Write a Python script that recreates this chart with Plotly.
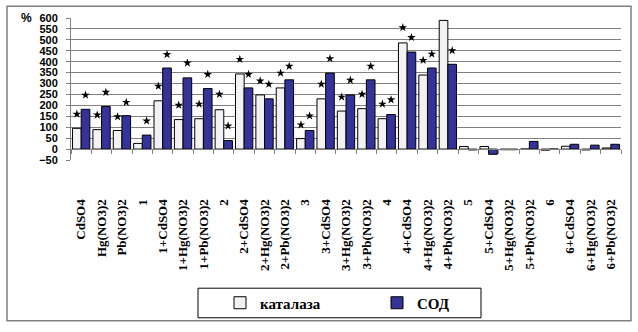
import plotly.graph_objects as go

categories = ["CdSO4", "Hg(NO3)2", "Pb(NO3)2", "1", "1+CdSO4", "1+Hg(NO3)2", "1+Pb(NO3)2",
              "2", "2+CdSO4", "2+Hg(NO3)2", "2+Pb(NO3)2", "3", "3+CdSO4", "3+Hg(NO3)2",
              "3+Pb(NO3)2", "4", "4+CdSO4", "4+Hg(NO3)2", "4+Pb(NO3)2", "5", "5+CdSO4",
              "5+Hg(NO3)2", "5+Pb(NO3)2", "6", "6+CdSO4", "6+Hg(NO3)2", "6+Pb(NO3)2"]

catalase = [95, 89, 85, 26, 221, 135, 139, 180, 344, 248, 280, 48, 230, 174, 185, 139,
            486, 339, 589, 12, 12, -3, 0, -5, 13, -4, 5]
sod = [182, 195, 153, 64, 371, 326, 277, 39, 280, 230, 317, 85, 348, 248, 317, 158,
       444, 371, 388, -4, -24, -3, 35, 0, 22, 18, 22]

# significance marks (*) heights
catalase_star = [160, 156, 148, None, 288, 201, 206, 251, 411, 312, 348, 111, 297, 238, 251,
                 206, 556, 406, 611, None, None, None, None, None, None, None, None]
sod_star = [247, 260, 214, 129, 433, 394, 342, 106, 342, 297, 379, 152, 414, 315, 379,
            226, 511, 435, 451, None, None, None, None, None, None, None, None]

series_names = ["каталаза", "СОД"]
y_ticks = list(range(-50, 601, 50))

W, H = 638, 332
L, R, T, B = 71, 17, 18, 170
pw, ph = W - L - R, H - T - B

def px_x(p):
    return (p - L) / pw

def px_y(p):
    return (H - B - p) / ph

fig = go.Figure()
fig.add_bar(x=categories, y=catalase, name=series_names[0], offsetgroup="a",
            marker=dict(color="#F2F2F2", line=dict(color="black", width=1)))
fig.add_bar(x=categories, y=sod, name=series_names[1], offsetgroup="b",
            marker=dict(color="#333399", line=dict(color="black", width=1)))
fig.add_scatter(x=categories, y=catalase_star, mode="markers", offsetgroup="a",
                showlegend=False, cliponaxis=False,
                marker=dict(symbol="star", size=6.5, color="black"))
fig.add_scatter(x=categories, y=sod_star, mode="markers", offsetgroup="b",
                showlegend=False, cliponaxis=False,
                marker=dict(symbol="star", size=6.5, color="black"))

fig.update_layout(
    width=W, height=H,
    margin=dict(l=L, r=R, t=T, b=B, pad=0),
    paper_bgcolor="white", plot_bgcolor="white",
    barmode="group", bargap=0.15, bargroupgap=0,
    scattermode="group",
    showlegend=True,
    legend=dict(orientation="h", x=px_x(220), y=px_y(307), xanchor="left", yanchor="middle",
                borderwidth=0, bgcolor="rgba(0,0,0,0)",
                font=dict(family="Liberation Serif", size=15, color="black", weight="bold"),
                entrywidth=112, entrywidthmode="pixels", traceorder="normal"),
    xaxis=dict(type="category", anchor="free", position=50 / 650,
               showline=True, linecolor="#808080", linewidth=1,
               ticks="outside", tickson="boundaries", ticklen=4, tickcolor="#808080",
               tickangle=-90, ticklabelstandoff=44, showgrid=False,
               tickfont=dict(family="Liberation Serif", size=13, color="black", weight="bold")),
    yaxis=dict(range=[-50, 600], tickvals=y_ticks, showgrid=True, gridcolor="#808080",
               gridwidth=1, zeroline=False, showline=True, linecolor="#808080",
               ticks="outside", ticklen=4, tickcolor="#808080", ticklabelstandoff=6,
               tickfont=dict(family="Liberation Sans", size=11, color="black", weight="bold")),
    annotations=[dict(text="%", xref="paper", yref="paper", x=px_x(26), y=px_y(18),
                      xanchor="center", yanchor="middle", showarrow=False,
                      font=dict(family="Liberation Sans", size=12, color="black", weight="bold"))],
    shapes=[dict(type="rect", xref="paper", yref="paper",
                 x0=px_x(7), x1=px_x(631), y0=px_y(325), y1=px_y(6),
                 line=dict(color="#808080", width=1.5), layer="below"),
            dict(type="rect", xref="paper", yref="paper",
                 x0=px_x(198), x1=px_x(481), y0=px_y(322), y1=px_y(292),
                 line=dict(color="black", width=1), layer="below")],
)

fig.write_html("out.html")
